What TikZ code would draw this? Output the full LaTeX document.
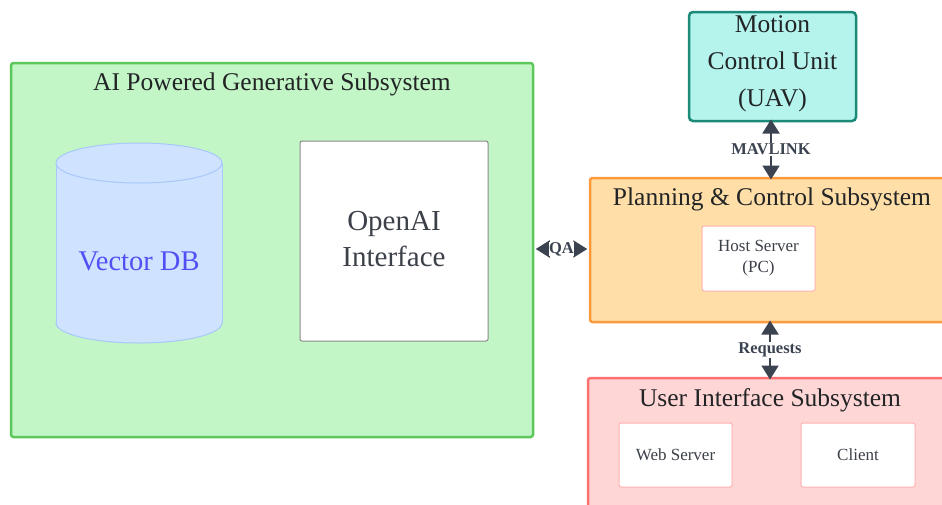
\documentclass[tikz,border=0pt]{standalone}
\usepackage{fontspec}
\setmainfont{Liberation Serif}
\usetikzlibrary{arrows.meta}

\definecolor{greenfill}{HTML}{C3F6C6}
\definecolor{greenline}{HTML}{5CC85C}
\definecolor{orangefill}{HTML}{FFDEA8}
\definecolor{orangeline}{HTML}{FF9A3C}
\definecolor{redfill}{HTML}{FFD6D6}
\definecolor{redline}{HTML}{FF7070}
\definecolor{tealfill}{HTML}{B4F4EC}
\definecolor{tealline}{HTML}{1B8A78}
\definecolor{dbfill}{HTML}{CFE2FF}
\definecolor{dbline}{HTML}{A8C8FA}
\definecolor{dbtext}{HTML}{5050F5}
\definecolor{innerline}{HTML}{FFB0B0}
\definecolor{boxgray}{HTML}{8A8A8A}
\definecolor{ink}{HTML}{222426}
\definecolor{softink}{HTML}{3C4048}
\definecolor{arrowink}{HTML}{3B4350}

\tikzset{
  x=1pt, y=-1pt,
  group/.style={draw, line width=2.5pt, rounded corners=2.5pt, inner sep=0pt},
  groupname/.style={font=\fontsize{25.5}{30}\selectfont, text=ink, inner sep=0pt},
  innerbox/.style={draw=innerline, fill=white, line width=1pt, rounded corners=2pt,
    font=\fontsize{17}{21}\selectfont, text=softink, align=center, inner sep=0pt},
  link/.style={draw=arrowink, line width=2pt,
    {Triangle[width=17pt,length=14pt]}-{Triangle[width=17pt,length=14pt]}},
  linklabel/.style={font=\bfseries\fontsize{16.5}{19}\selectfont, text=arrowink,
    fill=white, inner sep=1pt},
}

\begin{document}
\begin{tikzpicture}
\useasboundingbox (0,0) rectangle (942,504);
\clip (0,0) rectangle (942,504);
\fill[white] (0,0) rectangle (942,504);

% AI powered generative subsystem
\node[group, draw=greenline, fill=greenfill, minimum width=522pt, minimum height=374pt]
  (ai) at (272,250) {};
\node[groupname] (aititle) at (272,84) {AI Powered Generative Subsystem};

% vector database cylinder
\draw[draw=dbline, fill=dbfill, line width=1pt] (139,323) ellipse [x radius=83, y radius=20];
\fill[dbfill] (56,163) rectangle (222,323);
\draw[dbline, line width=1pt] (56,163) -- (56,323) (222,163) -- (222,323);
\draw[draw=dbline, fill=dbfill, line width=1pt] (139,163) ellipse [x radius=83, y radius=20];
\node[font=\fontsize{28.5}{32}\selectfont, text=dbtext, inner sep=0pt] (vdb) at (139,261) {Vector DB};

% OpenAI interface
\node[draw=boxgray, fill=white, line width=1pt, rounded corners=2pt,
  minimum width=188pt, minimum height=200pt, inner sep=0pt] (openai) at (394,241) {};
\node[font=\fontsize{29}{36}\selectfont, text=softink, align=center, inner sep=0pt]
  (openaitext) at (394,239) {OpenAI\\Interface};

% motion control unit
\node[group, draw=tealline, fill=tealfill, rounded corners=4pt,
  minimum width=167pt, minimum height=109pt] (mcu) at (772.5,66.5) {};
\node[font=\fontsize{25.5}{37}\selectfont, text=ink, align=center, inner sep=0pt]
  (mcutext) at (772.5,63.5) {Motion\\Control Unit\\(UAV)};

% planning & control subsystem
\node[group, draw=orangeline, fill=orangefill, minimum width=360pt, minimum height=144pt]
  (plan) at (770,250) {};
\node[groupname] (plantitle) at (772,199) {Planning \& Control Subsystem};
\node[innerbox, minimum width=113pt, minimum height=65pt] (host) at (758.5,258.5)
  {Host Server\\(PC)};

% user interface subsystem
\node[group, draw=redline, fill=redfill, minimum width=362pt, minimum height=150pt]
  (ui) at (769,453) {};
\node[groupname] (uititle) at (770,400) {User Interface Subsystem};
\node[innerbox, minimum width=113pt, minimum height=64pt] (web) at (675.5,455) {Web Server};
\node[innerbox, minimum width=114pt, minimum height=64pt] (client) at (858,455) {Client};

% connectors
\coordinate (qaL) at (ai.east |- 0,249);
\coordinate (qaR) at (plan.west |- 0,249);
\draw[link] ([xshift=1.5pt]qaL) -- node[linklabel, inner sep=0.5pt] {QA} ([xshift=-1.5pt]qaR);

\coordinate (mvT) at (771,121);
\coordinate (mvB) at (771,178);
\draw[link] ([yshift=1.5pt]mvT) -- node[linklabel] {MAVLINK} ([yshift=-1.5pt]mvB);

\coordinate (rqT) at (770,322);
\coordinate (rqB) at (770,378);
\draw[link] ([yshift=1.5pt]rqT) -- node[linklabel] {Requests} ([yshift=-1.5pt]rqB);
\end{tikzpicture}
\end{document}
